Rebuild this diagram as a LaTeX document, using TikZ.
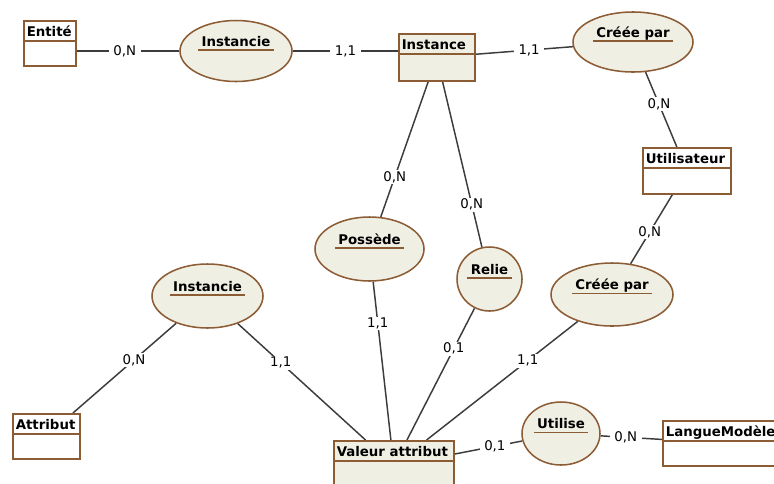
\documentclass[tikz,border=0pt]{standalone}
\usepackage{fontspec}
\setmainfont{DejaVu Sans}
\usetikzlibrary{shapes.geometric,calc,backgrounds}

\definecolor{bord}{RGB}{140,92,52}
\definecolor{beige}{RGB}{240,239,228}
\definecolor{trait}{RGB}{60,60,60}

\pgfdeclarelayer{paper}
\pgfsetlayers{paper,background,main}

\tikzset{
  entshape/.style={draw=bord, line width=1.15pt, rectangle, inner sep=0pt},
  assocshape/.style={draw=bord, line width=1.15pt, fill=beige, ellipse, inner sep=0pt},
  ttl/.style={font=\bfseries, text=black},
  sepline/.style={draw=bord, line width=1.2pt},
  ulline/.style={draw=bord, line width=1.2pt},
  lien/.style={draw=trait, line width=1.1pt},
  card/.style={fill=white, inner xsep=3.5pt, inner ysep=1pt, text=black},
}

% entity: name, left, top, width, height, title, fill
\newcommand\entite[7]{%
  \node[entshape, fill=#7, anchor=north west,
        minimum width={0.75pt*#4}, minimum height={0.75pt*#5}] (#1) at (#2,#3) {};
  \node[ttl, anchor=base west, inner sep=0pt] (#1-t) at ($(#1.north west)+(3.5,16.7)$) {#6};
  \draw[sepline] ($(#1.north west)+(1.5,21)$) -- ($(#1.north east)+(-1.5,21)$);
}
% association: name, cx, cy, rx, ry, title
\newcommand\assoc[6]{%
  \node[assocshape, minimum width={1.5pt*#4}, minimum height={1.5pt*#5}] (#1) at (#2,#3) {};
  \node[ttl, anchor=base, inner xsep=2.25pt, inner ysep=0pt] (#1-t) at ($(#1.center)+(0,-5)$) {#6};
  \draw[ulline] ($(#1-t.base west)+(0,4)$) -- ($(#1-t.base east)+(0,4)$);
}

\begin{document}
\begin{tikzpicture}[x=0.75pt, y=-0.75pt]
\useasboundingbox (0,0) rectangle (774,483);
\clip (0,0) rectangle (774,483);
\begin{pgfonlayer}{paper}
  \fill[white] (0,0) rectangle (774,483);
\end{pgfonlayer}

% entities
\entite{ent}{23}{20}{52}{45}{Entité}{white}
\entite{inst}{398}{33}{76}{47}{Instance}{beige}
\entite{usr}{642}{147}{88}{46}{Utilisateur}{white}
\entite{att}{12}{413}{67}{45}{Attribut}{white}
\entite{val}{333}{440}{120}{50}{Valeur attribut}{beige}
\entite{lang}{662}{420}{130}{45}{LangueModèle}{white}

% associations
\assoc{ins1}{236}{51}{56}{30.5}{Instancie}
\assoc{cree1}{633}{42}{60}{30}{Créée par}
\assoc{poss}{369.5}{249}{54.5}{32}{Possède}
\assoc{relie}{489.5}{279}{32.5}{32}{Relie}
\assoc{ins2}{207.5}{296}{55.5}{32}{Instancie}
\assoc{cree2}{612}{294.5}{61}{31.5}{Créée par}
\assoc{uses}{561}{433.5}{39}{31.5}{Utilise}

% links with cardinalities
\begin{scope}[on background layer]
  \draw[lien] (ent.east |- ins1) -- node[card, pos=.47] {0,N} (ins1);
  \draw[lien] (ins1) -- node[card, pos=.5] {1,1} (ins1 -| inst.west);
  \draw[lien] (inst) -- node[card, pos=.55] {1,1} (cree1);
  \draw[lien] (cree1) -- node[card, pos=.43] {0,N} (usr);
  \draw[lien] (usr) -- node[card, pos=.545] {0,N} (cree2);
  \draw[lien] (inst) -- node[card, pos=.706] {0,N} (poss);
  \draw[lien] (inst) -- node[card, pos=.744] {0,N} (relie);
  \draw[lien] (poss) -- node[card, pos=.264] {1,1} (val);
  \draw[lien] (relie) -- node[card, pos=.306] {0,1} (val);
  \draw[lien] (cree2) -- node[card, pos=.331] {1,1} (val);
  \draw[lien] (ins2) -- node[card, pos=.409] {0,N} (att);
  \draw[lien] (ins2) -- node[card, pos=.337] {1,1} (val);
  \draw[lien] (val) -- node[card, pos=.595] {0,1} (uses);
  \draw[lien] (uses) -- node[card, pos=.407] {0,N} (lang);
\end{scope}
\end{tikzpicture}
\end{document}
